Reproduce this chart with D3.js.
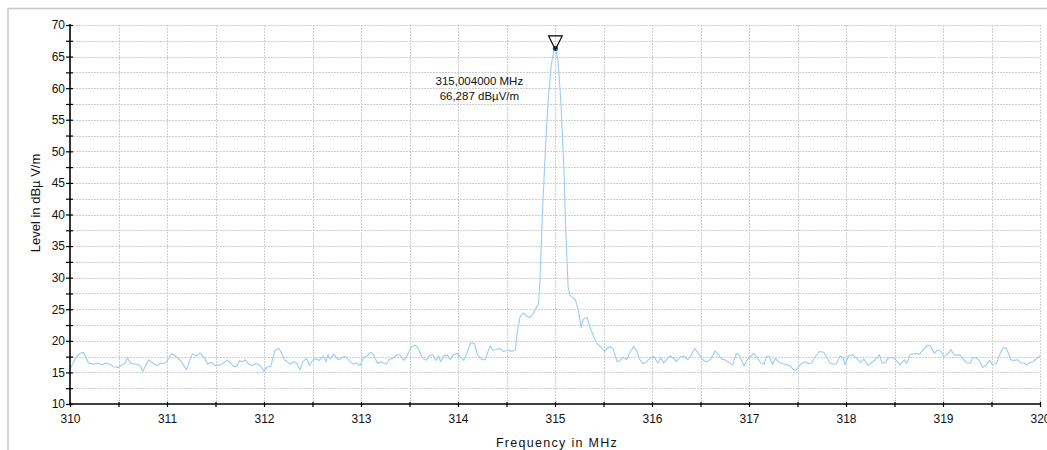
<!DOCTYPE html>
<html>
<head>
<meta charset="utf-8">
<script src="https://cdn.jsdelivr.net/npm/d3@7"></script>
<style>
  html, body { margin: 0; padding: 0; background: #fff; }
  svg { display: block; font-family: "Liberation Sans", Arial, sans-serif; }
</style>
</head>
<body>
<svg id="chart" width="1047" height="450"></svg>
<script>
// Spectrum trace: frequency (MHz) and level (dBµV/m)
const freqs = [
  310.00,310.05,310.10,310.14,310.19,310.24,310.28,310.33,310.37,310.41,310.45,310.50,310.53,310.57,310.59,310.63,
  310.69,310.72,310.75,310.81,310.87,310.90,310.93,310.98,311.01,311.05,311.10,311.15,311.20,311.24,311.26,311.31,
  311.34,311.39,311.42,311.46,311.49,311.55,311.60,311.62,311.66,311.69,311.72,311.75,311.78,311.81,311.84,311.88,
  311.92,311.96,312.00,312.03,312.07,312.11,312.15,312.17,312.21,312.24,312.27,312.31,312.34,312.37,312.40,312.44,
  312.47,312.50,312.53,312.57,312.61,312.64,312.66,312.68,312.72,312.74,312.77,312.81,312.84,312.89,312.92,312.95,
  312.99,313.03,313.06,313.10,313.13,313.17,313.20,313.26,313.29,313.33,313.37,313.40,313.44,313.47,313.52,313.56,
  313.59,313.63,313.67,313.71,313.74,313.77,313.80,313.82,313.86,313.89,313.92,313.95,313.99,314.03,314.06,314.10,
  314.13,314.17,314.20,314.24,314.28,314.33,314.36,314.43,314.47,314.52,314.55,314.59,314.61,314.64,314.67,314.71,
  314.74,314.78,314.80,314.83,314.845,314.87,314.90,314.93,314.96,314.985,315.004,315.03,315.06,315.09,315.11,315.135,
  315.155,315.17,315.21,315.24,315.27,315.29,315.33,315.36,315.40,315.43,315.47,315.51,315.53,315.57,315.60,315.64,
  315.67,315.70,315.74,315.77,315.81,315.84,315.87,315.91,315.95,315.98,316.02,316.06,316.09,316.12,316.16,316.19,
  316.23,316.25,316.29,316.33,316.37,316.40,316.44,316.48,316.53,316.57,316.605,316.65,316.685,316.72,316.75,316.79,
  316.83,316.87,316.90,316.95,316.975,317.01,317.05,317.09,317.12,317.155,317.18,317.21,317.245,317.27,317.32,317.37,
  317.42,317.46,317.49,317.53,317.58,317.61,317.645,317.68,317.725,317.77,317.80,317.835,317.87,317.90,317.94,317.97,
  317.99,318.025,318.07,318.11,318.15,318.185,318.23,318.265,318.30,318.345,318.37,318.40,318.44,318.48,318.52,318.555,
  318.60,318.625,318.66,318.71,318.76,318.79,318.84,318.87,318.91,318.94,318.976,319.01,319.045,319.08,319.115,319.15,
  319.175,319.21,319.245,319.28,319.31,319.365,319.41,319.44,319.48,319.51,319.55,319.59,319.62,319.655,319.70,319.73,
  319.77,319.80,319.835,319.86,319.90,319.93,319.965,320.00
];
const levels = [
  15.5,17.1,18.0,18.2,16.5,16.3,16.5,16.2,16.5,16.3,15.9,15.8,16.1,16.5,17.3,16.4,
  16.3,16.1,15.2,17.0,16.3,16.1,16.4,16.5,17.0,18.0,17.4,16.7,15.4,17.1,17.9,17.6,
  18.1,17.2,16.3,16.6,16.1,16.2,16.7,17.0,16.4,15.9,16.0,16.9,16.7,17.0,16.3,16.1,
  16.4,16.1,15.2,15.9,15.9,18.4,18.8,18.4,17.0,16.7,16.3,16.7,16.4,15.4,16.7,17.2,
  16.1,16.9,17.2,16.9,17.6,16.7,17.8,17.1,17.9,17.5,17.0,17.4,17.5,16.7,16.3,16.5,
  16.1,17.4,17.6,18.2,17.8,16.4,16.7,16.3,17.0,17.3,17.8,17.8,16.9,17.5,19.1,19.3,
  18.8,17.4,16.9,17.7,17.8,16.9,17.6,16.7,17.7,17.7,17.0,17.8,18.0,17.4,16.9,18.4,
  19.7,19.6,17.8,17.1,17.0,19.2,18.5,18.8,18.3,18.5,18.3,18.5,21.2,23.8,24.4,23.9,
  23.7,24.4,25.1,25.8,29.6,40.0,50.0,58.0,63.5,65.7,66.287,64.5,58.0,48.0,38.0,28.5,
  27.2,27.0,26.5,24.9,22.1,23.4,23.7,22.2,20.6,19.6,19.1,18.3,18.7,19.1,18.7,16.7,
  16.9,17.4,17.0,18.1,19.1,18.5,17.1,16.4,16.7,17.3,17.5,16.5,17.3,16.5,17.2,17.6,
  17.1,16.7,17.4,17.6,17.0,17.6,18.8,18.0,16.9,16.7,17.1,18.4,17.8,17.1,17.0,16.6,
  16.2,18.0,17.7,16.0,16.9,17.4,18.0,17.2,16.5,16.3,17.5,17.5,16.3,17.2,16.5,16.3,
  16.1,15.4,15.4,16.3,16.7,16.4,16.5,17.4,18.3,18.2,17.4,16.5,16.3,16.4,17.6,17.4,
  16.2,17.6,17.8,17.2,16.6,17.1,16.1,16.6,17.0,17.8,16.5,16.5,17.3,17.4,16.9,16.2,
  17.0,16.4,17.8,18.0,17.9,18.5,19.3,19.2,18.0,18.5,18.4,17.5,17.9,18.6,17.8,17.7,
  17.8,17.1,16.5,16.5,17.4,17.1,15.8,16.1,16.9,16.2,16.4,18.0,18.9,18.8,17.0,16.9,
  17.0,16.5,16.5,16.2,16.6,16.7,17.2,17.6
];

// Peak marker
const markerFreq = 315.004;
const markerLevel = 66.287;
const markerLines = ["315,004000 MHz", "66,287 dBµV/m"];

// Axis ticks
const xTicks = [310, 311, 312, 313, 314, 315, 316, 317, 318, 319, 320];
const xMinorTicks = [310.5, 311.5, 312.5, 313.5, 314.5, 315.5, 316.5, 317.5, 318.5, 319.5];
const yTicks = [10, 15, 20, 25, 30, 35, 40, 45, 50, 55, 60, 65, 70];
const yMinorTicks = [12.5, 17.5, 22.5, 27.5, 32.5, 37.5, 42.5, 47.5, 52.5, 57.5, 62.5, 67.5];

const xLabel = "Frequency in MHz";
const yLabel = "Level in dBµ V/m";

const svg = d3.select("#chart");
const plotLeft = 70, plotRight = 1040, plotTop = 25, plotBottom = 404;

const x = d3.scaleLinear().domain([310, 320]).range([plotLeft, plotRight]);
const y = d3.scaleLinear().domain([10, 70]).range([plotBottom, plotTop]);

// outer frame (top and left edges)
svg.append("path")
  .attr("d", `M8,450 L8,8.5 L1047,8.5`)
  .attr("fill", "none").attr("stroke", "#c8c8c8").attr("stroke-width", 1.5);

// grid
const grid = svg.append("g").attr("stroke", "#cfcfcf").attr("stroke-width", 1)
  .attr("stroke-dasharray", "2,1").attr("fill", "none");
const vGrid = xTicks.concat(xMinorTicks).filter(d => d > 310);
grid.selectAll("line.v").data(vGrid).join("line").attr("class", "v")
  .attr("x1", d => Math.round(x(d)) + 0.5).attr("x2", d => Math.round(x(d)) + 0.5)
  .attr("y1", plotTop).attr("y2", plotBottom);
const hGrid = yTicks.concat(yMinorTicks).filter(d => d > 10);
grid.selectAll("line.h").data(hGrid).join("line").attr("class", "h")
  .attr("y1", d => Math.round(y(d)) + 0.5).attr("y2", d => Math.round(y(d)) + 0.5)
  .attr("x1", plotLeft).attr("x2", plotRight);

// trace
const line = d3.line().x((d, i) => x(freqs[i])).y(d => y(d));
svg.append("path").datum(levels)
  .attr("d", line)
  .attr("fill", "none").attr("stroke", "#9ccbf7").attr("stroke-width", 1.1)
  .attr("stroke-linejoin", "round");

// axes
const xAxis = d3.axisBottom(x).tickValues(xTicks.concat(xMinorTicks))
  .tickSize(3).tickFormat(d => Number.isInteger(d) ? d3.format("d")(d) : "");
const gx = svg.append("g").attr("transform", `translate(0,${plotBottom})`).call(xAxis);
gx.select(".domain").remove();
gx.selectAll(".tick line").attr("y1", -2).attr("stroke", "#000").attr("stroke-width", 1.2);
gx.selectAll(".tick text").attr("y", 10).attr("font-size", 12).attr("fill", "#111")
  .attr("font-family", "Liberation Sans, Arial, sans-serif");

const yAxis = d3.axisLeft(y).tickValues(yTicks.concat(yMinorTicks))
  .tickSize(4).tickFormat(d => Number.isInteger(d) ? d3.format("d")(d) : "");
const gy = svg.append("g").attr("transform", `translate(${plotLeft},0)`).call(yAxis);
gy.select(".domain").remove();
gy.selectAll(".tick line").attr("x2", 3).attr("x1", -4).attr("stroke", "#000").attr("stroke-width", 1.2);
gy.selectAll(".tick text").attr("x", -5).attr("font-size", 12).attr("fill", "#111")
  .attr("font-family", "Liberation Sans, Arial, sans-serif");

svg.append("line").attr("x1", plotLeft).attr("x2", plotLeft).attr("y1", plotTop - 1).attr("y2", plotBottom + 1)
  .attr("stroke", "#000").attr("stroke-width", 1.6);
svg.append("line").attr("x1", plotLeft - 1).attr("x2", plotRight).attr("y1", plotBottom).attr("y2", plotBottom)
  .attr("stroke", "#000").attr("stroke-width", 1.6);

// axis titles
svg.append("text").attr("x", 557).attr("y", 447)
  .attr("text-anchor", "middle").attr("font-size", 12.5).attr("letter-spacing", 1.3)
  .attr("fill", "#111").text(xLabel);
svg.append("text").attr("transform", "translate(40,203) rotate(-90)")
  .attr("text-anchor", "middle").attr("font-size", 13).attr("fill", "#111").text(yLabel);

// peak marker
const mx = x(markerFreq), my = y(markerLevel);
svg.append("circle").attr("cx", mx).attr("cy", my).attr("r", 2.6).attr("fill", "#1f5f9f");
svg.append("path")
  .attr("d", `M${mx - 6.8},${my - 12.5} L${mx + 6.8},${my - 12.5} L${mx},${my + 1} Z`)
  .attr("fill", "none").attr("stroke", "#000").attr("stroke-width", 1.2);
svg.append("text").attr("x", mx - 76).attr("y", my + 37)
  .attr("text-anchor", "middle").attr("font-size", 11.5).attr("fill", "#111")
  .selectAll("tspan").data(markerLines).join("tspan")
  .attr("x", mx - 76).attr("dy", (d, i) => i ? 15 : 0).text(d => d);
</script>
</body>
</html>
